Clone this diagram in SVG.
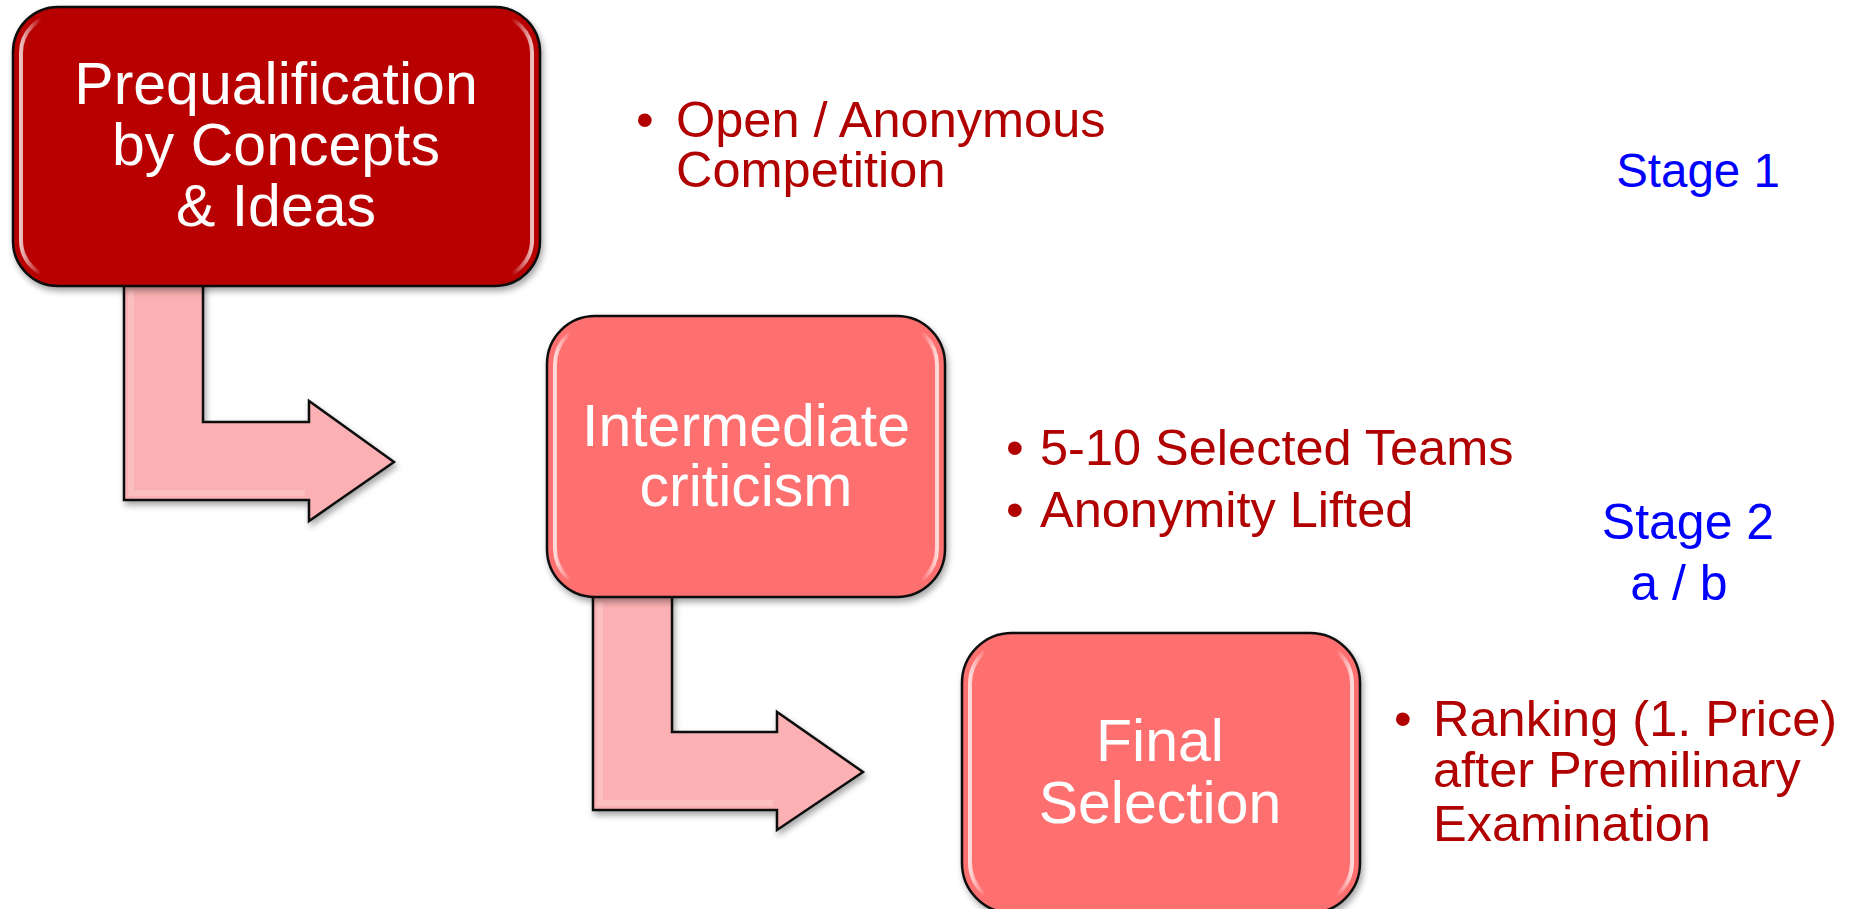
<svg xmlns="http://www.w3.org/2000/svg" width="1854" height="909" viewBox="0 0 1854 909">
<style>
.box{stroke:#111;stroke-width:2.5}
.dark{fill:#B80000}
.light{fill:#FE6F6F}
.gloss{fill:none;stroke:url(#glossGrad);stroke-width:4}
.arrow{fill:#FBB1B3;stroke:#111;stroke-width:2.5;stroke-linejoin:miter}
.inner{fill:none;stroke:#fff;stroke-width:6;opacity:0.18}
.boxtxt{font-family:"Liberation Sans",Arial,sans-serif;fill:#fff;text-anchor:middle;font-size:59px}
.bul{font-family:"Liberation Sans",Arial,sans-serif;fill:#B00000;font-size:50.5px}
.stage{font-family:"Liberation Sans",Arial,sans-serif;fill:#0000FF;text-anchor:middle}
</style>
<defs>
<filter id="shadow" x="-10%" y="-10%" width="120%" height="125%">
<feDropShadow dx="2" dy="4" stdDeviation="3" flood-color="#000" flood-opacity="0.35"/>
</filter>
<linearGradient id="glossGrad" x1="0" y1="0" x2="1" y2="0">
<stop offset="0" stop-color="#fff" stop-opacity="0.75"/>
<stop offset="0.04" stop-color="#fff" stop-opacity="0"/>
<stop offset="0.96" stop-color="#fff" stop-opacity="0"/>
<stop offset="1" stop-color="#fff" stop-opacity="0.75"/>
</linearGradient>
</defs>
<rect width="1854" height="909" fill="#fff"/>

<g id="connectors">
<g id="arrow1" filter="url(#shadow)">
<path class="arrow" d="M124,280 L203,280 L203,422 L309,422 L309,401 L394,462 L309,521 L309,500 L124,500 Z"/>
<path class="inner" d="M131,290 L131,493 L305,493"/>
</g>
<g id="arrow2" filter="url(#shadow)">
<path class="arrow" d="M593,592 L672,592 L672,732 L777,732 L777,712 L863,772 L777,830 L777,810 L593,810 Z"/>
<path class="inner" d="M600,602 L600,803 L773,803"/>
</g>
</g>

<g id="node1">
<rect class="box dark" x="13" y="7" width="527" height="279" rx="45" filter="url(#shadow)"/>
<rect class="gloss" x="21" y="15" width="511" height="263" rx="38"/>
<text class="boxtxt"><tspan x="276" y="104">Prequalification</tspan><tspan x="276" y="165">by Concepts</tspan><tspan x="276" y="226">&amp; Ideas</tspan></text>
</g>

<g id="node2">
<rect class="box light" x="547" y="316" width="398" height="281" rx="48" filter="url(#shadow)"/>
<rect class="gloss" x="555" y="324" width="382" height="265" rx="41"/>
<text class="boxtxt"><tspan x="746" y="446">Intermediate</tspan><tspan x="746" y="506">criticism</tspan></text>
</g>

<g id="node3">
<rect class="box light" x="962" y="633" width="398" height="280" rx="50" filter="url(#shadow)"/>
<rect class="gloss" x="970" y="641" width="382" height="264" rx="43"/>
<text class="boxtxt"><tspan x="1160" y="761">Final</tspan><tspan x="1160" y="823">Selection</tspan></text>
</g>

<g id="notes1">
<text class="bul" x="636" y="137">•</text>
<text class="bul"><tspan x="676" y="137">Open / Anonymous</tspan><tspan x="676" y="187">Competition</tspan></text>
</g>

<g id="notes2">
<text class="bul" x="1006" y="465">•</text>
<text class="bul" x="1040" y="465">5-10 Selected Teams</text>
<text class="bul" x="1006" y="527">•</text>
<text class="bul" x="1040" y="527">Anonymity Lifted</text>
</g>

<g id="notes3">
<text class="bul" x="1394" y="736">•</text>
<text class="bul"><tspan x="1433" y="736">Ranking (1. Price)</tspan><tspan x="1433" y="787">after Premilinary</tspan><tspan x="1433" y="841">Examination</tspan></text>
</g>

<g id="stage1">
<text class="stage" font-size="47.5" x="1698" y="187">Stage 1</text>
</g>
<g id="stage2">
<text class="stage" font-size="50"><tspan x="1688" y="539">Stage 2</tspan><tspan x="1679" y="600">a / b</tspan></text>
</g>
</svg>
